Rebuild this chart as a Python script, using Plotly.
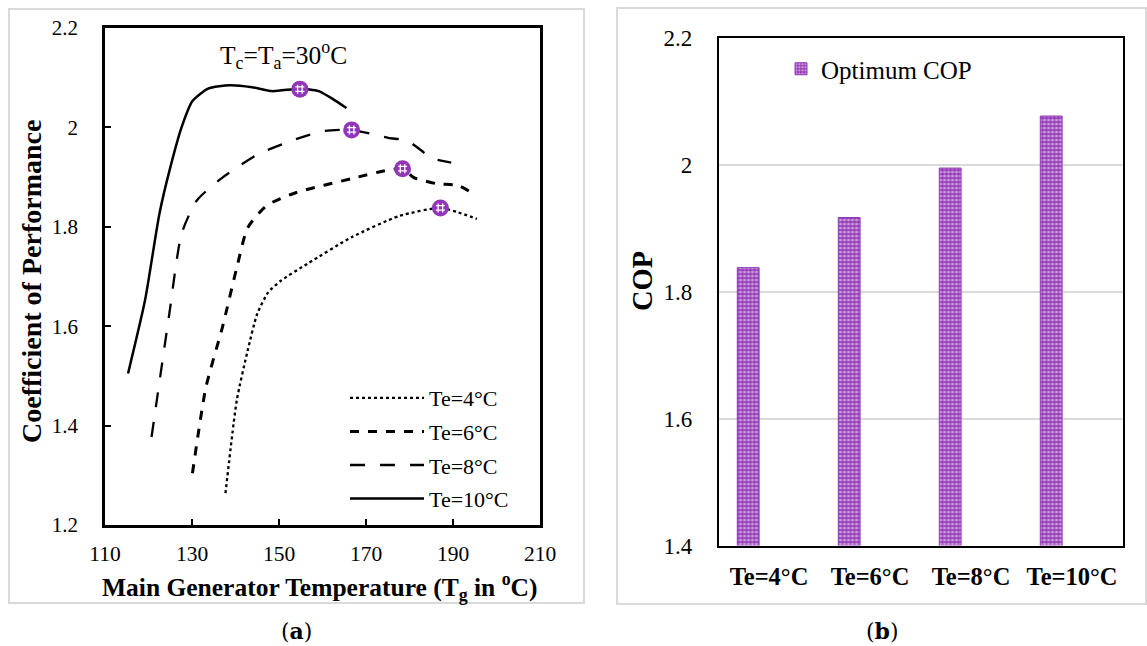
import plotly.graph_objects as go

W, H = 1147, 646

# COP vs main generator temperature for each evaporator temperature
tg_te4 = [137.7, 140.3, 142.8, 145.0, 147.5, 150.5, 156.6, 166.7, 177.7, 187.1, 191.2, 195.5]
cop_te4 = [1.264, 1.451, 1.551, 1.625, 1.668, 1.692, 1.726, 1.779, 1.822, 1.838, 1.829, 1.816]

tg_te6 = [130.1, 133.2, 137.0, 140.3, 142.8, 147.2, 154.0, 166.7, 174.4, 178.4, 181.0, 186.1, 191.2, 194.2]
cop_te6 = [1.304, 1.477, 1.598, 1.718, 1.798, 1.843, 1.869, 1.897, 1.913, 1.917, 1.899, 1.887, 1.883, 1.869]

tg_te8 = [120.7, 124.8, 127.6, 131.1, 137.0, 145.4, 154.8, 160.6, 166.7, 175.1, 179.5, 182.8, 184.8, 189.6]
cop_te8 = [1.377, 1.626, 1.786, 1.853, 1.899, 1.947, 1.979, 1.993, 1.995, 1.979, 1.973, 1.953, 1.939, 1.929]

tg_te10 = [115.3, 119.2, 122.5, 125.0, 127.6, 130.1, 133.7, 138.8, 143.8, 148.4, 154.8, 159.1, 162.4, 165.5]
cop_te10 = [1.505, 1.652, 1.826, 1.919, 2.000, 2.053, 2.078, 2.085, 2.081, 2.073, 2.078, 2.073, 2.057, 2.039]

# optimum operating points
categories = ["Te=4°C", "Te=6°C", "Te=8°C", "Te=10°C"]
opt_tg = [187.1, 178.4, 166.7, 154.8]
opt_cop = [1.838, 1.917, 1.995, 2.077]

x_ticks = [110, 130, 150, 170, 190, 210]
y_ticks_a = [1.2, 1.4, 1.6, 1.8, 2.0, 2.2]
y_ticks_b = [1.4, 1.6, 1.8, 2.0, 2.2]

PURPLE = "#9236B8"
FONT = "Liberation Serif, Times New Roman, serif"


def px(x):
    return x / W


def py(y):
    return 1 - y / H


fig = go.Figure()

series = [
    ("Te=4°C", tg_te4, cop_te4, "dot", 2.3),
    ("Te=6°C", tg_te6, cop_te6, "dash", 3.0),
    ("Te=8°C", tg_te8, cop_te8, "longdash", 2.3),
    ("Te=10°C", tg_te10, cop_te10, "solid", 2.5),
]
for name, xs, ys, dash, w in series:
    fig.add_trace(go.Scatter(
        x=xs, y=ys, mode="lines", name=name, legendgroup=name,
        line=dict(color="black", width=w, dash=dash, shape="spline", smoothing=0.6),
        xaxis="x", yaxis="y", legend="legend",
    ))

fig.add_trace(go.Scatter(
    x=opt_tg, y=opt_cop, mode="markers", showlegend=False,
    marker=dict(symbol="circle", size=17, color=PURPLE, line=dict(width=0)),
    xaxis="x", yaxis="y",
))
fig.add_trace(go.Scatter(
    x=opt_tg, y=opt_cop, mode="markers", showlegend=False,
    marker=dict(symbol="hash-open", size=9, color="white", line=dict(width=1.3, color="white")),
    xaxis="x", yaxis="y",
))

# single series drawn left of each category centre (clustered-column slot)
fig.add_trace(go.Bar(
    x=categories, y=opt_cop, name="Optimum COP", width=0.216, offset=-0.314,
    marker=dict(color=PURPLE, line=dict(color=PURPLE, width=1),
                pattern=dict(shape=".", fgcolor="white", size=4, solidity=0.5)),
    xaxis="x2", yaxis="y2", legend="legend2",
))


def label(text, x, y, size, angle=0, family=FONT):
    return dict(text=text, x=px(x), y=py(y), xref="paper", yref="paper",
                xanchor="center", yanchor="middle", textangle=angle,
                showarrow=False, font=dict(size=size, family=family))


fig.update_layout(
    width=W, height=H,
    margin=dict(l=0, r=0, t=0, b=0, pad=0, autoexpand=False),
    paper_bgcolor="white", plot_bgcolor="white",
    font=dict(family=FONT, color="black", size=21),
    xaxis=dict(
        domain=[px(105), px(540)], range=[110, 210], tickvals=x_ticks,
        ticks="inside", ticklen=6, tickwidth=1.5, tickcolor="black",
        showline=True, linecolor="black", linewidth=2.5, mirror=True,
        showgrid=False, zeroline=False, ticklabelstandoff=7, automargin=False,
        tickfont=dict(size=21.5, family=FONT), anchor="y",
    ),
    yaxis=dict(
        domain=[py(525), py(28)], range=[1.2, 2.2], tickvals=y_ticks_a,
        ticktext=["1.2", "1.4", "1.6", "1.8", "2", "2.2"],
        ticks="inside", ticklen=6, tickwidth=1.5, tickcolor="black",
        showline=True, linecolor="black", linewidth=2.5, mirror=True,
        showgrid=False, zeroline=False, ticklabelstandoff=20, automargin=False,
        tickfont=dict(size=21, family=FONT), anchor="x",
    ),
    xaxis2=dict(
        domain=[px(718.5), px(1122.5)], type="category",
        showline=True, linecolor="black", linewidth=1.5, mirror=True,
        showgrid=False, ticks="", ticklabelstandoff=8, automargin=False,
        tickfont=dict(size=24.5, family=FONT, weight="bold"), anchor="y2",
    ),
    yaxis2=dict(
        domain=[py(545.5), py(38)], range=[1.4, 2.2], tickvals=y_ticks_b,
        ticktext=["1.4", "1.6", "1.8", "2", "2.2"],
        showline=True, linecolor="black", linewidth=1.5, mirror=True,
        showgrid=True, gridcolor="#D9D9D9", gridwidth=1.5, zeroline=False,
        ticks="", ticklabelstandoff=20, automargin=False,
        tickfont=dict(size=23, family=FONT), anchor="x2",
    ),
    legend=dict(
        x=px(345), y=py(377), xanchor="left", yanchor="top",
        bgcolor="rgba(0,0,0,0)", font=dict(size=22, family=FONT), itemwidth=74,
        tracegroupgap=2,
    ),
    legend2=dict(
        x=px(781), y=py(46), xanchor="left", yanchor="top",
        bgcolor="rgba(0,0,0,0)", font=dict(size=25, family=FONT),
    ),
    shapes=[
        dict(type="rect", xref="paper", yref="paper",
             x0=px(9), x1=px(584), y0=py(603), y1=py(9),
             line=dict(color="#D9D9D9", width=2), layer="below"),
        dict(type="rect", xref="paper", yref="paper",
             x0=px(617), x1=px(1146), y0=py(604), y1=py(8),
             line=dict(color="#D9D9D9", width=2), layer="below"),
    ],
    annotations=[
        label("<b>Coefficient of Performance</b>", 32, 282, 28, angle=-90),
        label("<b>Main Generator Temperature (T<sub>g</sub> in <sup>o</sup>C)</b>", 320, 587, 25.5),
        label("T<sub>c</sub>=T<sub>a</sub>=30<sup>o</sup>C", 283.5, 55, 25.5),
        label("<b>COP</b>", 642, 281, 28.5, angle=-90),
        label("(<b>a</b>)", 296.5, 631, 22, family="DejaVu Serif"),
        label("(<b>b</b>)", 882, 631, 22, family="DejaVu Serif"),
    ],
)

fig.write_html("out.html")
